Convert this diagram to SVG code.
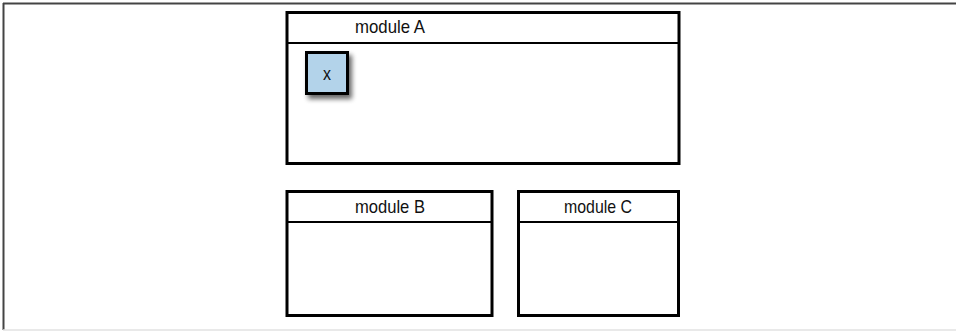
<svg xmlns="http://www.w3.org/2000/svg" width="956" height="331" viewBox="0 0 956 331">
<defs>
<style>
.box{fill:#fff;stroke:#000;stroke-width:3}
.div{stroke:#000;stroke-width:2;fill:none}
.lbl{font-family:"Liberation Sans",Arial,sans-serif;font-size:19px;fill:#111;text-anchor:middle}
</style>
<filter id="sh" x="-30%" y="-30%" width="170%" height="170%">
<feGaussianBlur in="SourceAlpha" stdDeviation="2.5"/>
<feOffset dx="3" dy="4" result="b"/>
<feComponentTransfer><feFuncA type="linear" slope="0.6"/></feComponentTransfer>
<feMerge><feMergeNode/><feMergeNode in="SourceGraphic"/></feMerge>
</filter>
</defs>
<rect width="956" height="331" fill="#fff"/>
<g id="frame">
<line x1="3" y1="3.5" x2="956" y2="3.5" stroke="#444" stroke-width="2"/>
<line x1="3.5" y1="3" x2="3.5" y2="330" stroke="#444" stroke-width="2"/>
<line x1="3" y1="330" x2="956" y2="330" stroke="#e2e2e2" stroke-width="1.5"/>
</g>
<g id="moduleA">
<rect class="box" x="287" y="12.5" width="392" height="151"/>
<line class="div" x1="287" y1="43" x2="679" y2="43"/>
<text class="lbl" x="390" y="33" textLength="70" lengthAdjust="spacingAndGlyphs">module A</text>
</g>
<g id="x">
<rect x="306.5" y="52.5" width="41" height="41" fill="#b3d3ea" stroke="#000" stroke-width="3" filter="url(#sh)"/>
<text class="lbl" x="327" y="80" textLength="8" lengthAdjust="spacingAndGlyphs">x</text>
</g>
<g id="moduleB">
<rect class="box" x="287" y="191.5" width="205" height="124"/>
<line class="div" x1="287" y1="222" x2="492" y2="222"/>
<text class="lbl" x="390" y="213" textLength="70" lengthAdjust="spacingAndGlyphs">module B</text>
</g>
<g id="moduleC">
<rect class="box" x="518.5" y="191.5" width="160" height="124"/>
<line class="div" x1="518" y1="222" x2="679" y2="222"/>
<text class="lbl" x="598" y="213" textLength="68" lengthAdjust="spacingAndGlyphs">module C</text>
</g>
<g id="connectors"/>
</svg>
